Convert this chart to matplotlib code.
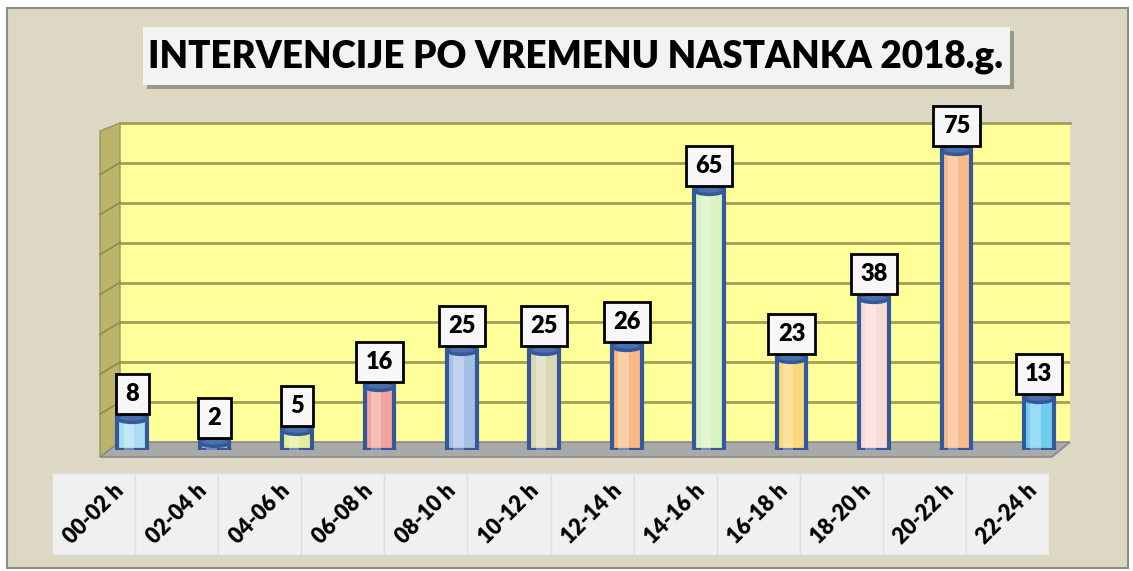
import matplotlib.pyplot as plt
from matplotlib.patches import Rectangle, Polygon, Ellipse

# data
categories = ['00-02 h', '02-04 h', '04-06 h', '06-08 h', '08-10 h', '10-12 h',
              '12-14 h', '14-16 h', '16-18 h', '18-20 h', '20-22 h', '22-24 h']
values = [8, 2, 5, 16, 25, 25, 26, 65, 23, 38, 75, 13]
bar_colors = ['#A8DDF2', '#9CC8EC', '#E4EE9A', '#F0A49C', '#A4C0E4', '#DDD6B6',
              '#F8B984', '#D8F2C0', '#F8D878', '#F8DAD6', '#F8BA88', '#6FCDF0']
title = 'INTERVENCIJE PO VREMENU NASTANKA 2018.g.'

W, H = 1133, 571
fx = lambda px: px / W
fy = lambda py: 1 - py / H

plt.rcParams['font.family'] = ['Lato', 'DejaVu Sans']
fig = plt.figure(figsize=(W / 100, H / 100), dpi=100, facecolor='white')

# outer beige frame
fig.patches.append(Rectangle((fx(7), fy(568)), fx(1121), (568 - 8) / H, zorder=-10,
                             transform=fig.transFigure, fc='#DDD8C4', ec='#8C8C8C', lw=1.5))

# title box with shadow
fig.patches.append(Rectangle((fx(147), fy(89)), fx(867), 58 / H, transform=fig.transFigure,
                             fc='#9A9888', ec='none'))
fig.patches.append(Rectangle((fx(143), fy(85)), fx(867), 58 / H, transform=fig.transFigure,
                             fc='#F3F3F3', ec='none'))
fig.text(fx(576), fy(57), title, ha='center', va='center', fontsize=26.5,
         fontweight='heavy', color='black')

# back wall
ax_wall = fig.add_axes([fx(120), fy(442), fx(950), 319 / H])
ax_wall.set_facecolor('#FFFF99')
ax_wall.set_xlim(0, 1)
ax_wall.set_ylim(0, 80)
ax_wall.set_yticks(range(10, 80, 10))
ax_wall.grid(axis='y', color='#A39E5A', lw=2)
ax_wall.tick_params(left=False, bottom=False, labelleft=False, labelbottom=False)
for s in ax_wall.spines.values():
    s.set_visible(False)
ax_wall.spines['top'].set_visible(True)
ax_wall.spines['top'].set_color('#A39E5A')
ax_wall.spines['top'].set_linewidth(2)

# side wall and floor
fig.patches.append(Polygon([(fx(100), fy(131)), (fx(120), fy(123)), (fx(120), fy(442)),
                            (fx(100), fy(457))], closed=True, transform=fig.transFigure,
                           fc='#B9B56C', ec='#9A965A', lw=1))
for k in range(1, 8):
    y_back = 442 - k * 39.9
    fig.lines.append(plt.Line2D([fx(100), fx(120)], [fy(y_back + 12), fy(y_back)],
                                transform=fig.transFigure, color='#8E8A50', lw=1.2))
fig.patches.append(Polygon([(fx(100), fy(457)), (fx(120), fy(442)), (fx(1070), fy(442)),
                            (fx(1052), fy(457))], closed=True, transform=fig.transFigure,
                           fc='#A9A9A9', ec='#8A8A8A', lw=1.2))

# bars
ax = fig.add_axes([fx(91), fy(450), fx(989), 320 / H])
ax.set_zorder(3)
ax.set_xlim(-0.5, 11.5)
ax.set_ylim(0, 80)
ax.axis('off')
x = list(range(len(values)))
bw = 0.36
edge = '#34589A'
eh = 2.2
for i, v in zip(x, values):
    ax.add_patch(Ellipse((i, 0), bw, eh, fc=bar_colors[i], ec=edge, lw=3, zorder=2))
ax.bar(x, values, width=bw, color=bar_colors, edgecolor=edge, linewidth=3, zorder=3)
ax.bar([i - 0.04 for i in x], values, width=bw * 0.35, color='white', alpha=0.3,
       linewidth=0, zorder=4)
for i, v in zip(x, values):
    ax.add_patch(Ellipse((i, v), bw, eh, fc='#4A70AE', ec=edge, lw=2.5, zorder=5))
    ax.annotate(str(v), (i, v), xytext=(0, 24), textcoords='offset pixels',
                ha='center', va='center', fontsize=17, fontweight='heavy', zorder=6,
                bbox=dict(boxstyle='square,pad=0.4', fc='#F7F7F7', ec='black', lw=2))

# category label boxes
ax_lab = fig.add_axes([fx(52), fy(555), fx(997), 82 / H])
ax_lab.set_zorder(3)
ax_lab.set_xlim(-0.5, 11.5)
ax_lab.set_ylim(0, 1)
ax_lab.axis('off')
ax_lab.bar(x, [1] * len(x), width=1, color='#F0F0F0', edgecolor='#E0E0DC', linewidth=1)
for i, c in zip(x, categories):
    ax_lab.text(i, 0.5, c, rotation=45, ha='center', va='center', fontsize=15.5,
                fontweight='heavy', rotation_mode='anchor')

fig.savefig('out.png', dpi=100)
